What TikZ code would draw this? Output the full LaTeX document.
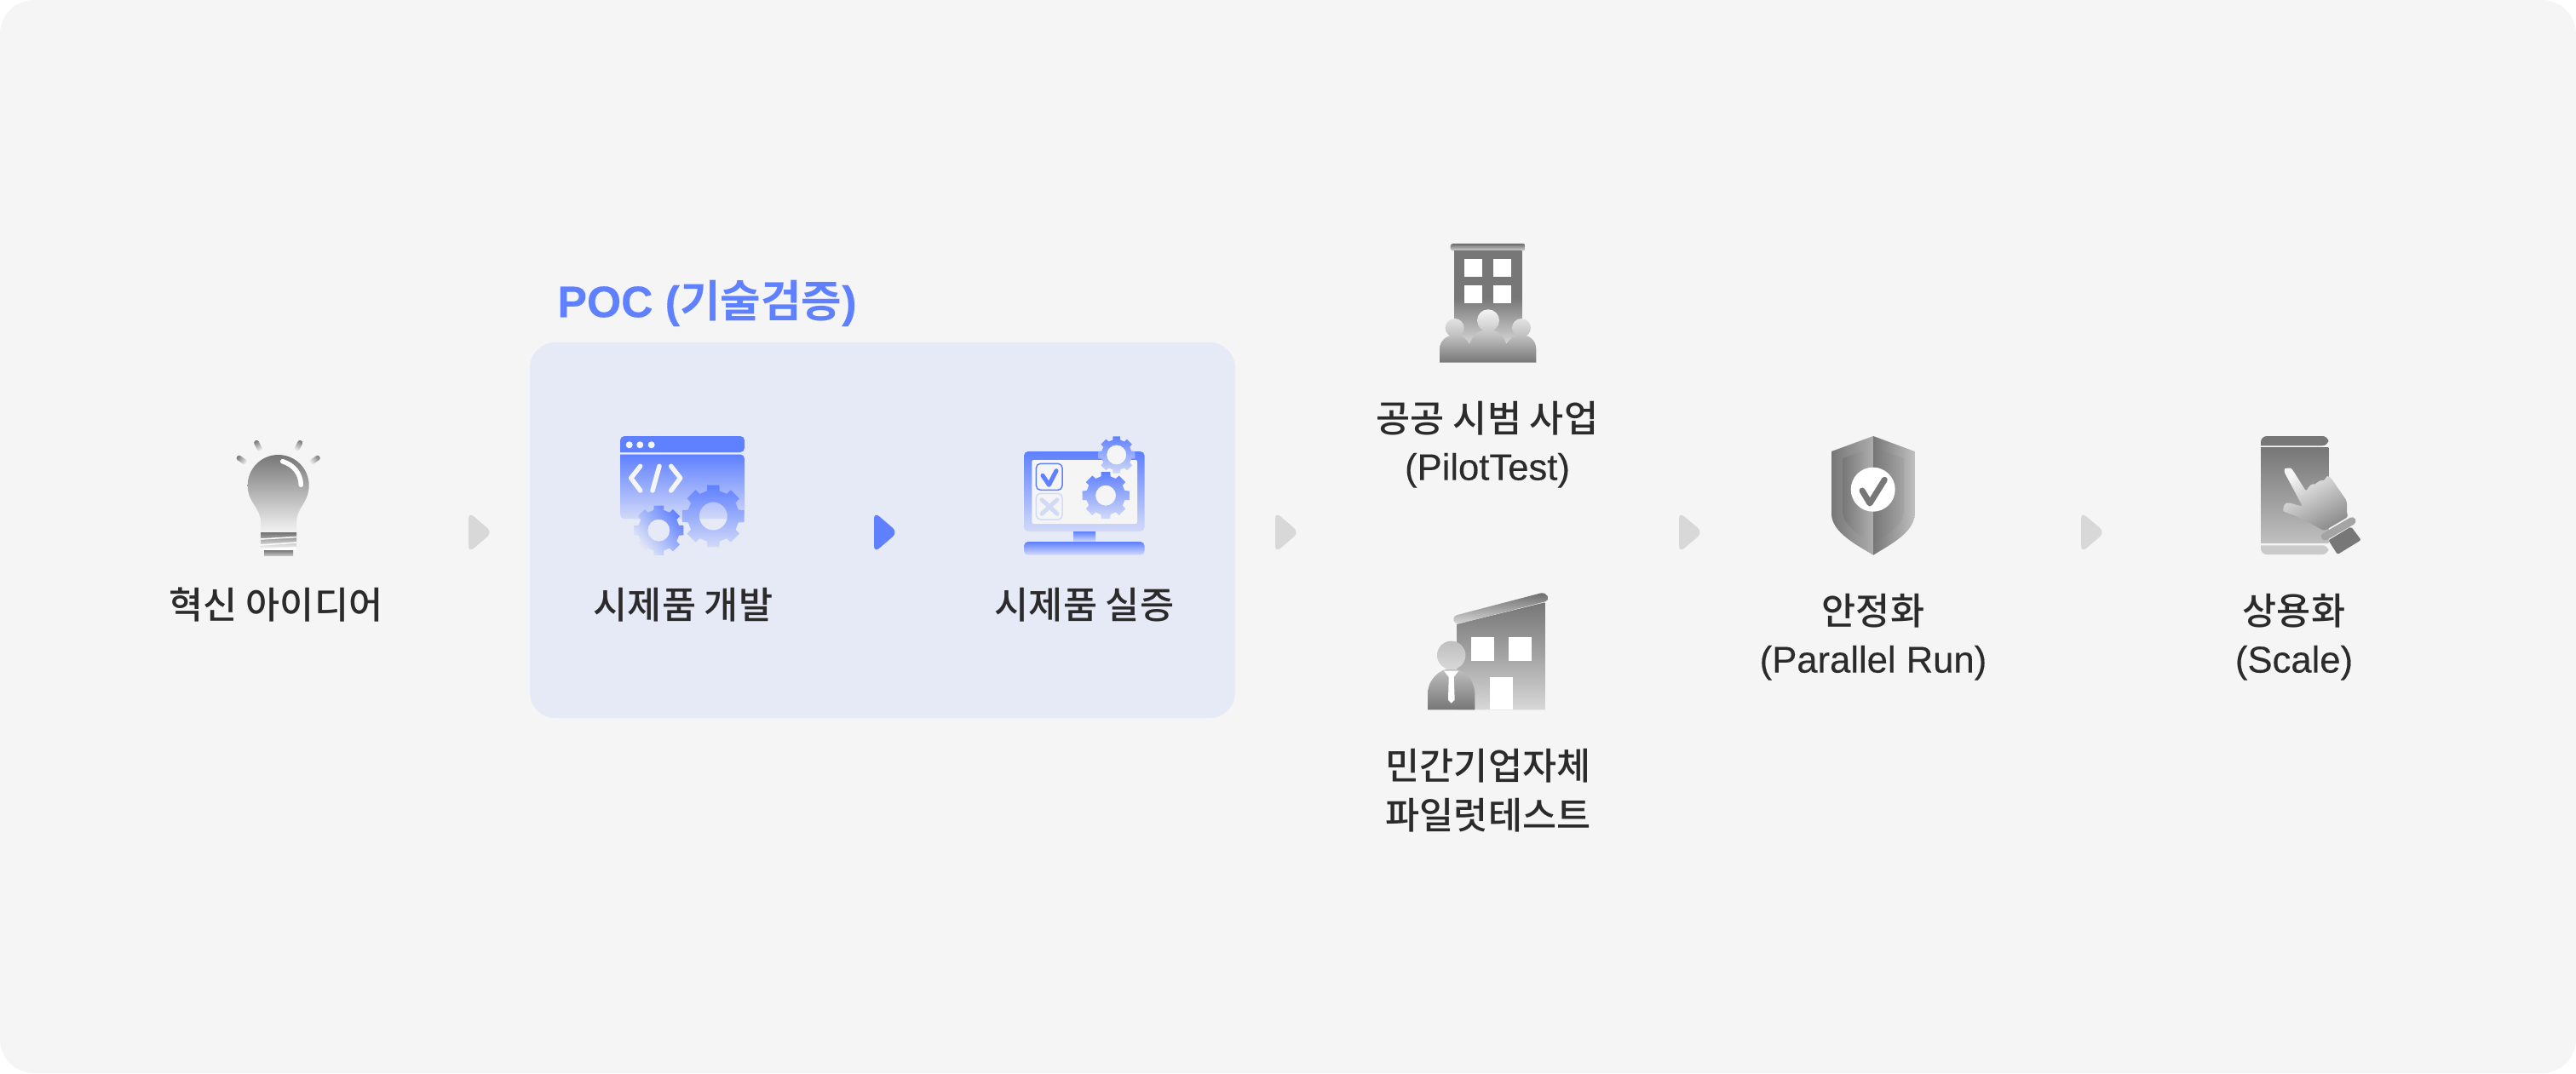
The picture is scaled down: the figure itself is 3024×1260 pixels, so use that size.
\documentclass[tikz,border=0pt]{standalone}
\usepackage{fontspec}
\setmainfont{Liberation Sans}[FakeBold=0.25]
\newfontfamily\krfont{Noto Sans CJK KR}[UprightFont=* Medium, BoldFont=* Bold]
\usetikzlibrary{positioning}
\definecolor{mbg}{HTML}{F5F5F5}
\definecolor{mpanel}{HTML}{E6EAF6}
\definecolor{mblue}{HTML}{5F80FF}
\definecolor{mpale}{HTML}{D2DAF8}
\definecolor{mink}{HTML}{2B2B2B}
\definecolor{mdark}{HTML}{777777}
\definecolor{mmid}{HTML}{A4A4A4}
\definecolor{mtip}{HTML}{D8D8D8}
\newcommand{\kr}[1]{{\krfont #1}}
\newcommand{\gearshape}[6]{
    \shade [shift={(#1, #2)}, even odd rule, #6] (-14:#4) \foreach \a in {0, 45, ..., 315} { -- ({\a - 14}:#4) -- ({\a - 11}:#3) -- ({\a + 11}:#3) -- ({\a + 14}:#4) } -- cycle (0, 0) circle (#5);
}
\tikzset{
    caption/.style={font=\fontsize{12.4}{16.5}\selectfont, text=mink, align=center, inner sep=0pt},
    tipmark/.style={rounded corners=0.08cm},
    bluefade/.style={top color=mblue, bottom color=mpale},
    greyfade/.style={top color=mdark, bottom color=#1},
    greyfade/.default=mbg
}
\begin{document}
\begin{tikzpicture}[x=0.01cm, y=-0.01cm]
    \useasboundingbox (0, 0) rectangle (3024, 1260);
    \fill [white] (0, 0) rectangle (3024, 1260);
    \fill [mbg, rounded corners=0.4cm] (0, 0) rectangle (3024, 1260);
    \fill [mpanel, rounded corners=0.3cm] (622, 402) rectangle (1450, 843);

    \node [caption, font=\fontsize{14.7}{17}\selectfont\bfseries, text=mblue] (poc) at (830, 356) {POC (\kr{기술검증})};

    % arrows
    \foreach \x in {550, 1497, 1971, 2443}
        \fill [mtip, tipmark] (\x, 601) -- ({\x + 28}, 625) -- (\x, 649) -- cycle;
    \fill [mblue, tipmark] (1026, 601) -- (1054, 625) -- (1026, 649) -- cycle;

    % bulb
    \foreach \a in {-55, -27, 27, 55}
        \shade [top color=mdark, bottom color=mbg, rotate around={\a:(326.7, 570)}, shading angle=\a, rounded corners=0.025cm] (323.7, 511) rectangle (329.7, 524);
    \shade [greyfade] (306, 626.7) -- (306, 612) .. controls (305, 595) and (290.7, 590) .. (290.7, 570) .. controls (290.7, 550.1) and (306.8, 534) .. (326.7, 534) .. controls (346.6, 534) and (362.7, 550.1) .. (362.7, 570) .. controls (362.7, 590) and (349, 595) .. (348, 612) -- (348, 626.7) -- cycle;
    \draw [white, line width=0.055cm, line cap=round] (331.7, 541.7) .. controls (345, 546) and (353, 556) .. (353.3, 569.3);
    \shade [greyfade=white] (306, 625.7) rectangle (348, 645);
    \draw [white, line width=0.015cm] (306, 633) -- (348, 630.5) (306, 640) -- (348, 637) (306, 645) -- (348, 643);
    \shade [top color=mdark, bottom color=lightgray] (310, 646) rectangle (344, 652);
    \node [caption] (idea) at (324, 710) {\kr{혁신 아이디어}};

    % window with gears
    \fill [mblue, rounded corners=0.05cm] (728, 531) -- (728, 512) -- (874, 512) -- (874, 531) [sharp corners] -- cycle;
    \shade [bluefade, rounded corners=0.05cm] (728, 533.5) -- (728, 609.3) -- (874, 609.3) -- (874, 533.5) [sharp corners] -- cycle;
    \foreach \x in {738.7, 751.3, 764.7}
        \fill [mbg] (\x, 522.3) circle (4);
    \draw [mbg, line width=0.055cm, line cap=round, line join=round] (751.7, 547.3) -- (740.7, 561.3) -- (751.7, 576) (774, 547.3) -- (766, 576) (787.7, 547.3) -- (798.7, 561.3) -- (787.7, 576);
    \gearshape{837.3}{606}{37}{30.5}{16.5}{top color=mblue, bottom color=mpale}
    \gearshape{773.3}{622.7}{29.7}{24.5}{13}{top color=mblue, bottom color=mpanel, shading angle=-50}
    \node [caption] (develop) at (802, 710) {\kr{시제품 개발}};

    % monitor with gears
    \shade [top color=mblue, bottom color=mpale, rounded corners=0.05cm] (1202, 530) rectangle (1343.6, 624);
    \fill [mbg, rounded corners=0.02cm] (1211.4, 540) rectangle (1335, 615);
    \shade [top color=mblue, bottom color=mpale] (1260, 624) rectangle (1286, 636);
    \shade [top color=mblue, bottom color=mpale, rounded corners=0.05cm] (1202, 636) rectangle (1343.6, 651.7);
    \draw [mblue, line width=0.015cm, rounded corners=0.05cm] (1216.4, 544.3) rectangle (1247, 575.3);
    \draw [mblue, line width=0.05cm, line cap=round, line join=round] (1224, 558.3) -- (1231.4, 569.3) -- (1240, 552.7);
    \draw [mpale, line width=0.015cm, rounded corners=0.05cm] (1216.4, 579.3) rectangle (1247, 610);
    \draw [mpale, line width=0.05cm, line cap=round] (1223, 586.7) -- (1241, 603.3) (1241, 586.7) -- (1223, 603.3);
    \fill [mbg] (1310.7, 534) circle (12);
    \gearshape{1310.7}{534}{22}{18}{11.5}{top color=mblue, bottom color=mpale}
    \gearshape{1298}{581.7}{28}{23}{12}{top color=mblue, bottom color=mpale}
    \node [caption] (verify) at (1273, 710) {\kr{시제품 실증}};

    % public building
    \shade [top color=mdark!90!black, bottom color=mtip, rounded corners=0.03cm] (1702.7, 286) rectangle (1790.7, 294.7);
    \shade [top color=mdark, bottom color=mtip, middle color=mdark] (1707, 294.7) rectangle (1786.7, 405);
    \foreach \x in {1719.3, 1753.3}
        \foreach \y in {304.3, 335}
            \fill [white] (\x, \y) rectangle ({\x + 21}, {\y + 21});
    \shade [top color=mbg, bottom color=mdark, middle color=lightgray] (1690, 425.7) -- (1690, 410) .. controls (1690, 400) and (1698, 393.3) .. (1707.7, 393.3) .. controls (1716, 393.3) and (1722, 398) .. (1725, 404) .. controls (1729, 393) and (1738, 386.7) .. (1747, 386.7) .. controls (1756, 386.7) and (1765, 393) .. (1768.3, 404) .. controls (1772, 398) and (1778, 393.3) .. (1786, 393.3) .. controls (1796, 393.3) and (1803.3, 400) .. (1803.3, 410) -- (1803.3, 425.7) -- cycle (1747, 376.3) circle (13) (1707.7, 385) circle (11) (1786, 385) circle (11);
    \node [caption] (public) at (1746, 522) {\kr{공공 시범 사업}\\[-0.6pt](PilotTest)};

    % private building
    \shade [greyfade=mtip, middle color=mmid] (1710.7, 732.7) -- (1813.3, 707.3) -- (1813.3, 833.3) -- (1710.7, 833.3) -- cycle;
    \shade [top color=mdark!90!black, bottom color=mtip, rounded corners=0.05cm] (1705, 723.5) -- (1814, 695) -- (1819, 705) -- (1708, 733.5) -- cycle;
    \foreach \x in {1726.7, 1771}
        \fill [white] (\x, 748.3) rectangle ({\x + 27.3}, 775.7);
    \fill [white] (1749, 795) rectangle (1776, 833.3);
    \shade [top color=lightgray, bottom color=mdark] (1676, 833.3) -- (1676, 815) .. controls (1676, 798) and (1690, 785) .. (1703.7, 785) .. controls (1718, 785) and (1731.3, 798) .. (1731.3, 815) -- (1731.3, 833.3) -- cycle;
    \shade [top color=lightgray, bottom color=mtip] (1703.7, 769.3) circle (16.7);
    \fill [white] (1695, 787.7) -- (1712.3, 787.7) -- (1706.7, 795) -- (1707.7, 821.7) -- (1703.7, 825.7) -- (1700, 821.7) -- (1700.7, 795) -- cycle;
    \node [caption] (private) at (1747, 928) {\kr{민간기업자체}\\\kr{파일럿테스트}};

    % shield
    \shade [left color=mdark, right color=lightgray!90!black] (2199, 512) -- (2150, 530) -- (2150, 603.3) .. controls (2150, 625) and (2180, 640) .. (2199, 651.7) -- cycle;
    \shade [left color=mdark, right color=lightgray] (2199, 512) -- (2247.7, 530) -- (2247.7, 603.3) .. controls (2247.7, 625) and (2218, 640) .. (2199, 651.7) -- cycle;
    \shade [left color=mdark, right color=mmid!70!lightgray] (2197, 526) -- (2163, 538) -- (2163, 600) .. controls (2163, 617) and (2185, 630) .. (2197, 638) -- cycle;
    \shade [left color=mdark, right color=mmid] (2199, 526) -- (2235, 538) -- (2235, 600) .. controls (2235, 617) and (2213, 630) .. (2199, 638) -- cycle;
    \fill [white] (2198.7, 574.7) circle (26);
    \draw [mdark, line width=0.07cm, line cap=round, line join=round] (2186, 576) -- (2195, 591) -- (2212.3, 563.3);
    \node [caption] (stable) at (2199, 748) {\kr{안정화}\\[-0.6pt](Parallel Run)};

    % phone with hand
    \fill [mdark, rounded corners=0.07cm] (2654, 523.3) -- (2654, 512) -- (2733.3, 512) -- (2733.3, 523.3) [sharp corners] -- cycle;
    \shade [greyfade=lightgray] (2654, 525.3) rectangle (2733.3, 637.7);
    \fill [lightgray!80!mbg, rounded corners=0.07cm] (2654, 640.3) -- (2654, 651) -- (2733.3, 651) -- (2733.3, 640.3) [sharp corners] -- cycle;
    \shade [top color=mbg, bottom color=gray!80!lightgray, shading angle=30, rounded corners=0.03cm] (2681, 553.3) .. controls (2682, 550) and (2689, 549) .. (2691.7, 552.3) -- (2707.3, 577.3) .. controls (2710, 571) and (2714, 568) .. (2718.3, 569.3) .. controls (2721, 565) and (2725, 564) .. (2728.3, 565) .. controls (2730, 561) and (2732, 559) .. (2735, 559.3) -- (2755, 588.3) -- (2755, 603.3) -- (2756.7, 606.7) -- (2728.3, 623.3) -- (2713.3, 615) -- (2693.3, 605) -- (2683.3, 601.7) .. controls (2680, 600) and (2680, 592) .. (2686.7, 590) -- (2703.3, 595) -- cycle;
    \fill [mdark, rounded corners=0.02cm] (2733.3, 634.3) -- (2760, 618.3) -- (2771.7, 634) -- (2744, 651) -- cycle;
    \draw [mmid, line width=0.09cm, line cap=round] (2729.3, 630) -- (2761, 611.7);
    \node [caption] (scale) at (2693, 748) {\kr{상용화}\\[-0.6pt](Scale)};
\end{tikzpicture}
\end{document}
